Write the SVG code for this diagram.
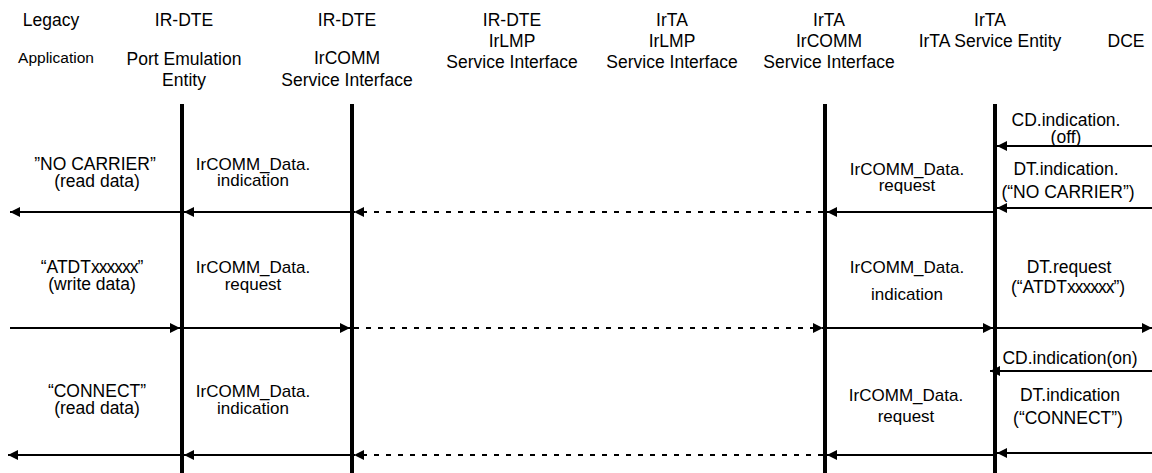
<svg xmlns="http://www.w3.org/2000/svg" width="1152" height="473" viewBox="0 0 1152 473">
  <style>
    text { font-family: "Liberation Sans", Arial, sans-serif; fill: #000; text-anchor: middle; }
    .hdr { font-size: 17.5px; }
    .small { font-size: 15.5px; }
    .lbl { font-size: 17.5px; }
    .prim { font-size: 17px; }
    .life { stroke: #000; stroke-width: 4; }
    .msg { stroke: #000; stroke-width: 2; fill: none; marker-end: url(#head); }
    .dash { stroke-dasharray: 5 7; }
  </style>
  <defs>
    <marker id="head" markerUnits="userSpaceOnUse" markerWidth="10" markerHeight="10" refX="10" refY="5" orient="auto">
      <path d="M0,0 L10,5 L0,10 Z" fill="#000"/>
    </marker>
  </defs>

  <rect width="1152" height="473" fill="#fff"/>

  <!-- column headings -->
  <g id="legacy-app">
    <text class="hdr" x="51" y="26">Legacy</text>
    <text class="small" x="56" y="63">Application</text>
  </g>
  <g id="port-emulation">
    <text class="hdr" x="184" y="26">IR-DTE</text>
    <text class="hdr" x="184" y="65">Port Emulation</text>
    <text class="hdr" x="184" y="86">Entity</text>
  </g>
  <g id="dte-ircomm">
    <text class="hdr" x="347" y="26">IR-DTE</text>
    <text class="hdr" x="347" y="64">IrCOMM</text>
    <text class="hdr" x="347" y="86">Service Interface</text>
  </g>
  <g id="dte-irlmp">
    <text class="hdr" x="512" y="26">IR-DTE</text>
    <text class="hdr" x="512" y="47">IrLMP</text>
    <text class="hdr" x="512" y="68">Service Interface</text>
  </g>
  <g id="irta-irlmp">
    <text class="hdr" x="672" y="26">IrTA</text>
    <text class="hdr" x="672" y="47">IrLMP</text>
    <text class="hdr" x="672" y="68">Service Interface</text>
  </g>
  <g id="irta-ircomm">
    <text class="hdr" x="829" y="26">IrTA</text>
    <text class="hdr" x="829" y="47">IrCOMM</text>
    <text class="hdr" x="829" y="68">Service Interface</text>
  </g>
  <g id="irta-service">
    <text class="hdr" x="990" y="26">IrTA</text>
    <text class="hdr" x="990" y="47">IrTA Service Entity</text>
  </g>
  <g id="dce">
    <text class="hdr" x="1126" y="47">DCE</text>
  </g>

  <!-- lifelines -->
  <g id="lifelines">
    <line class="life" x1="182" y1="104" x2="182" y2="473"/>
    <line class="life" x1="352" y1="104" x2="352" y2="473"/>
    <line class="life" x1="825" y1="104" x2="825" y2="473"/>
    <line class="life" x1="995" y1="104" x2="995" y2="473"/>
  </g>

  <!-- message labels -->
  <g id="labels">
    <text class="lbl" x="95" y="170">”NO CARRIER”</text>
    <text class="lbl" x="97" y="187">(read data)</text>
    <text class="prim" x="253" y="170">IrCOMM_Data.</text>
    <text class="prim" x="253" y="186">indication</text>
    <text class="prim" x="907" y="175">IrCOMM_Data.</text>
    <text class="prim" x="907" y="191">request</text>
    <text class="lbl" x="1066" y="126">CD.indication.</text>
    <text class="lbl" x="1066" y="143">(off)</text>
    <text class="lbl" x="1066" y="175">DT.indication.</text>
    <text class="lbl" x="1068" y="198">(“NO CARRIER”)</text>

    <text class="lbl" x="92" y="273">“ATDT<tspan letter-spacing="-1">xxxxxx</tspan>”</text>
    <text class="lbl" x="92" y="290">(write data)</text>
    <text class="prim" x="253" y="273">IrCOMM_Data.</text>
    <text class="prim" x="253" y="290">request</text>
    <text class="prim" x="907" y="273">IrCOMM_Data.</text>
    <text class="prim" x="907" y="300">indication</text>
    <text class="lbl" x="1069" y="273">DT.request</text>
    <text class="lbl" x="1068" y="293">(“ATDT<tspan letter-spacing="-1">xxxxxx</tspan>”)</text>

    <text class="lbl" x="97" y="397">“CONNECT”</text>
    <text class="lbl" x="97" y="414">(read data)</text>
    <text class="prim" x="253" y="397">IrCOMM_Data.</text>
    <text class="prim" x="253" y="414">indication</text>
    <text class="prim" x="906" y="401">IrCOMM_Data.</text>
    <text class="prim" x="906" y="422">request</text>
    <text class="lbl" x="1070" y="364">CD.indication(on)</text>
    <text class="lbl" x="1070" y="401">DT.indication</text>
    <text class="lbl" x="1068" y="424">(“CONNECT”)</text>
  </g>

  <!-- connectors -->
  <g id="connectors">
    <!-- "NO CARRIER" sequence -->
    <line class="msg" x1="1152" y1="146" x2="997" y2="146"/>
    <line class="msg" x1="1152" y1="208" x2="997" y2="208"/>
    <line class="msg" x1="993" y1="212" x2="827" y2="212"/>
    <line class="msg dash" x1="823" y1="212" x2="354" y2="212"/>
    <line class="msg" x1="350" y1="212" x2="184" y2="212"/>
    <line class="msg" x1="180" y1="212" x2="10" y2="212"/>

    <!-- dial request sequence -->
    <line class="msg" x1="10" y1="328" x2="180" y2="328"/>
    <line class="msg" x1="184" y1="328" x2="350" y2="328"/>
    <line class="msg dash" x1="354" y1="328" x2="823" y2="328"/>
    <line class="msg" x1="827" y1="328" x2="993" y2="328"/>
    <line class="msg" x1="997" y1="328" x2="1152" y2="328"/>

    <!-- "CONNECT" sequence -->
    <line class="msg" x1="1152" y1="371" x2="990" y2="371"/>
    <line class="msg" x1="1152" y1="453" x2="997" y2="453"/>
    <line class="msg" x1="993" y1="455" x2="827" y2="455"/>
    <line class="msg dash" x1="823" y1="455" x2="354" y2="455"/>
    <line class="msg" x1="350" y1="455" x2="184" y2="455"/>
    <line class="msg" x1="180" y1="455" x2="8" y2="455"/>
  </g>
</svg>
